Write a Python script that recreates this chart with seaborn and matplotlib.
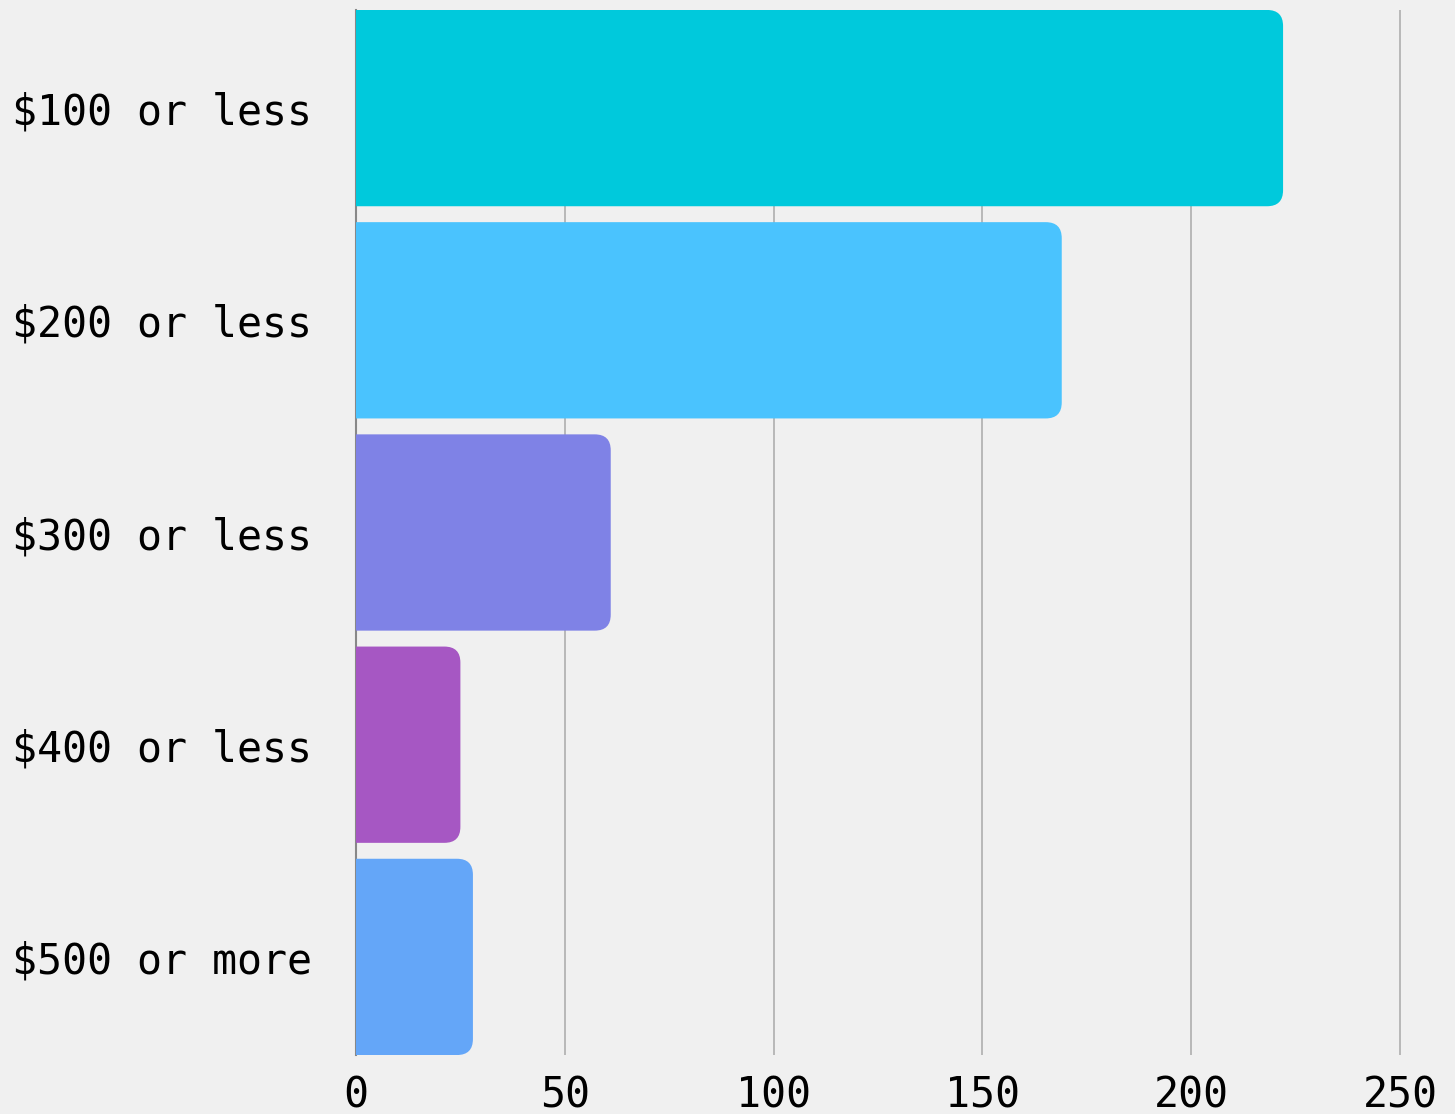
import matplotlib
matplotlib.use("Agg")
import matplotlib.pyplot as plt
from matplotlib.patches import FancyBboxPatch
import seaborn as sns
import pandas as pd

# values
categories = ["$100 or less", "$200 or less", "$300 or less", "$400 or less", "$500 or more"]
counts = [222, 169, 61, 25, 28]
bar_colors = ["#00C9DC", "#4AC3FE", "#7F82E6", "#A657C3", "#64A6F8"]
x_ticks = [0, 50, 100, 150, 200, 250]

sns.set_theme(style="white")
plt.rcParams["font.family"] = ["DejaVu Sans Mono", "DejaVu Sans"]

bg = "#F0F0F0"
fig = plt.figure(figsize=(14.55, 11.14), dpi=100, facecolor=bg)
ax = fig.add_axes([356 / 1455, 59 / 1114, 1099 / 1455, 1045 / 1114])
ax.set_facecolor(bg)

df = pd.DataFrame({"bucket": categories, "count": counts})
sns.barplot(data=df, x="count", y="bucket", hue="bucket", palette=bar_colors,
            width=0.925, legend=False, ax=ax, saturation=1)

ax.set_xlim(0, 1099 / 4.176)
ax.set_ylim(len(categories) - 1 + 0.4623, -0.4623)

# swap each bar for a rounded one; its left end sits past x=0 and is clipped,
# so only the right end shows rounded corners
r = 16 / 4.176
asp = (16 / 212) / r
for p in list(ax.patches):
    x0, y0, w, h = p.get_x(), p.get_y(), p.get_width(), p.get_height()
    fc = p.get_facecolor()
    p.set_visible(False)
    rp = FancyBboxPatch((x0 - 3 * r, y0), w + 3 * r, h,
                        boxstyle=f"round,pad=0,rounding_size={r}",
                        mutation_aspect=asp, facecolor=fc, edgecolor="none", zorder=2)
    ax.add_patch(rp)
    rp.set_clip_path(ax.patch)

ax.set_axisbelow(True)
ax.set_xticks(x_ticks)
ax.grid(axis="x", color="#B4B4B4", linewidth=1.3)
ax.grid(axis="y", visible=False)
for s in ["top", "right", "bottom"]:
    ax.spines[s].set_visible(False)
ax.spines["left"].set_color("#888888")
ax.spines["left"].set_linewidth(1.5)
ax.spines["left"].set_zorder(1)

ax.set_xlabel("")
ax.set_ylabel("")
ax.tick_params(axis="y", length=0, pad=32, labelsize=30, labelcolor="black")
ax.tick_params(axis="x", length=0, pad=14, labelsize=30, labelcolor="black")

fig.savefig("out.png", dpi=100, facecolor=bg)
